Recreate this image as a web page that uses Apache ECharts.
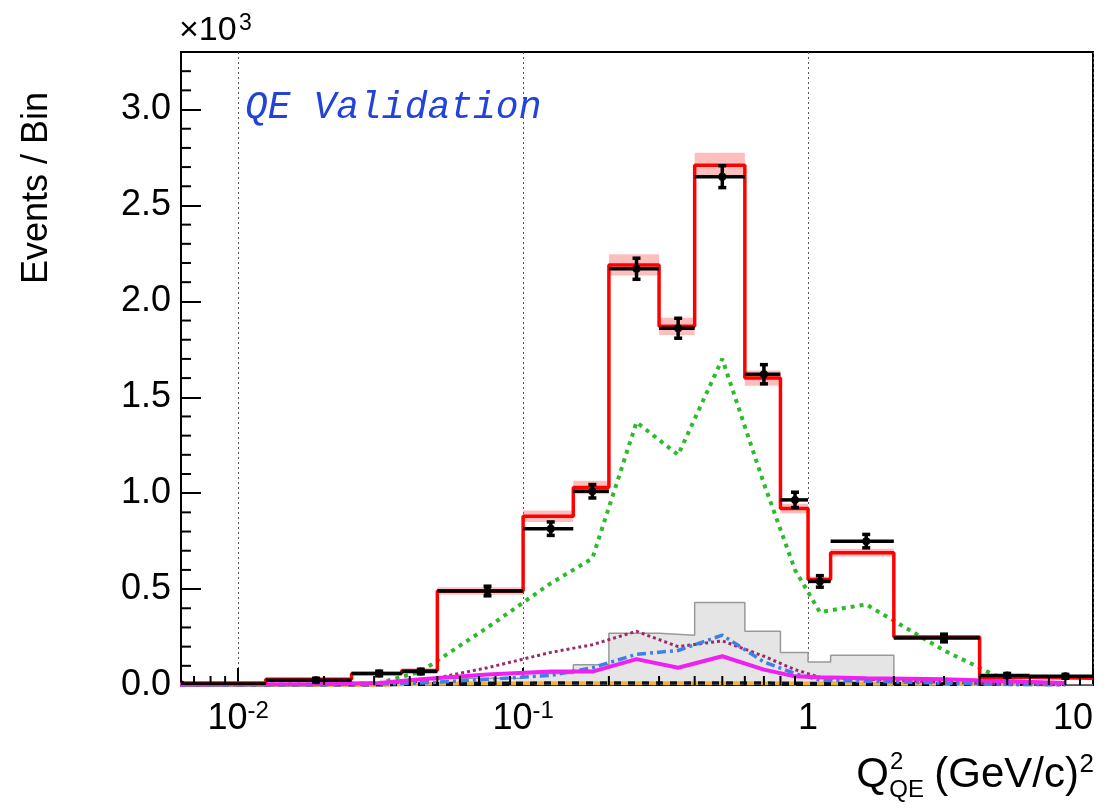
<!DOCTYPE html>
<html>
<head>
<meta charset="utf-8">
<title>QE Validation</title>
<script src="https://cdn.jsdelivr.net/npm/echarts@6/dist/echarts.min.js"></script>
<style>
  html, body { margin: 0; padding: 0; background: #fff; }
  #chart { width: 1120px; height: 811px; }
</style>
</head>
<body>
<div id="chart"></div>
<script>
// Q2_QE binning, (GeV/c)^2
var binEdges = [0, 0.0125, 0.025, 0.0375, 0.05, 0.1, 0.15, 0.2, 0.3, 0.4, 0.6, 0.8, 1.0, 1.2, 2.0, 4.0, 6.0, 10.0];

// all values in units of 10^3 events / bin
var dataValues = [0.005, 0.025, 0.06, 0.07, 0.49, 0.815, 1.01, 2.17, 1.86, 2.65, 1.62, 0.965, 0.54, 0.75, 0.245, 0.05, 0.045];
var dataErrors = [0.005, 0.01, 0.012, 0.012, 0.025, 0.035, 0.035, 0.055, 0.052, 0.057, 0.05, 0.04, 0.03, 0.035, 0.02, 0.01, 0.01];

var mcTotal = [0.01, 0.03, 0.06, 0.075, 0.49, 0.88, 1.03, 2.19, 1.87, 2.71, 1.60, 0.92, 0.55, 0.69, 0.25, 0.04, 0.035];
var mcErrors = [0.003, 0.005, 0.006, 0.006, 0.02, 0.03, 0.035, 0.055, 0.045, 0.065, 0.04, 0.025, 0.015, 0.02, 0.008, 0.003, 0.003];

var mcGray = [0, 0, 0.005, 0.01, 0.035, 0.06, 0.105, 0.27, 0.26, 0.43, 0.28, 0.17, 0.12, 0.155, 0.01, 0, 0];
var mcGreen = [0, 0.004, 0.01, 0.07, 0.30, 0.53, 0.66, 1.37, 1.20, 1.70, 1.05, 0.60, 0.38, 0.42, 0.18, 0.02, 0.005];
var mcPurple = [0, 0.003, 0.008, 0.02, 0.09, 0.17, 0.21, 0.28, 0.20, 0.23, 0.15, 0.08, 0.04, 0.03, 0.015, 0.003, 0.001];
var mcBlue = [0, 0.002, 0.005, 0.01, 0.03, 0.05, 0.09, 0.16, 0.18, 0.26, 0.12, 0.06, 0.025, 0.02, 0.01, 0.002, 0];
var mcMagenta = [0.002, 0.005, 0.01, 0.03, 0.055, 0.07, 0.07, 0.135, 0.09, 0.15, 0.08, 0.045, 0.04, 0.035, 0.03, 0.02, 0.01];
var mcBlack = [0, 0, 0, 0.006, 0.009, 0.01, 0.01, 0.01, 0.01, 0.01, 0.01, 0.009, 0.008, 0.008, 0.007, 0.005, 0.004];
var mcOrange = [0, 0, 0, 0.006, 0.008, 0.009, 0.009, 0.009, 0.009, 0.009, 0.009, 0.008, 0.008, 0.007, 0.006, 0.005, 0.004];

var xTickValues = [0.01, 0.1, 1, 10];
var xTickLabels = ['{b|10}{s|-2}', '{b|10}{s|-1}', '{b|1}', '{b|10}'];
var yTickStep = 0.5;
var yMinorStep = 0.1;

var X_MIN = 0.0063;
var X_MAX = 10;
var Y_MAX = 3.3;
var FONT = 'Liberation Sans, Arial, sans-serif';

(function() {
  var chart = echarts.init(document.getElementById('chart'));

  // Helpers
  function binLo(i) {
    return Math.max(binEdges[i], X_MIN);
  }

  function binCenter(i) {
    return (binEdges[i] + binEdges[i + 1]) / 2;
  }

  function stepPoints(values) {
    var pts = [];
    for (var i = 0; i < values.length; i++) {
      pts.push([binLo(i), values[i]], [binEdges[i + 1], values[i]]);
    }
    return pts;
  }

  function centerPoints(values) {
    return values.map(function(v, i) {
      return [binCenter(i), v];
    });
  }

  // 对数轴的次刻度 2..9
  var minorX = [];
  for (var d = -3; d <= 0; d++) {
    for (var k = 2; k <= 9; k++) {
      var x = k * Math.pow(10, d);
      if (x > X_MIN && x < X_MAX) minorX.push(x);
    }
  }

  // y 次刻度 (每 0.1)
  var minorY = [];
  for (var j = 1; j * yMinorStep < Y_MAX; j++) {
    if (j % Math.round(yTickStep / yMinorStep) !== 0) minorY.push(+(j * yMinorStep).toFixed(2));
  }

  function polyline(name, values, color, width, type, z, offset) {
    return {
      name: name,
      type: 'line',
      data: centerPoints(values),
      showSymbol: false,
      silent: true,
      z: z,
      lineStyle: { color: color, width: width, type: type, cap: 'butt', dashOffset: offset || 0 }
    };
  }

  var bandData = mcTotal.map(function(v, i) {
    return [binLo(i), binEdges[i + 1], v, mcErrors[i]];
  });

  var pointData = dataValues.map(function(v, i) {
    return [binLo(i), binEdges[i + 1], binCenter(i), v, dataErrors[i]];
  });

  var tickData = minorX.map(function(x) {
    return [x, 0, 0];
  }).concat(minorY.map(function(y) {
    return [X_MIN, y, 1];
  }));

  chart.setOption({
    animation: false,
    backgroundColor: '#fff',
    grid: {
      left: 181, right: 27, top: 52, bottom: 126,
      show: true, borderColor: '#000', borderWidth: 2
    },
    xAxis: {
      type: 'log',
      logBase: 10,
      min: X_MIN,
      max: X_MAX,
      axisLine: { show: true, onZero: false, lineStyle: { color: '#000', width: 2 } },
      axisTick: { inside: true, length: 17, lineStyle: { color: '#000', width: 2 } },
      minorTick: { show: false },
      splitLine: { show: true, lineStyle: { color: '#555', width: 1, type: [2, 3] } },
      axisLabel: {
        margin: 14,
        color: '#000',
        showMinLabel: false,
        alignMaxLabel: 'right',
        formatter: function(v) {
          for (var i = 0; i < xTickValues.length; i++) {
            if (Math.abs(Math.log10(v) - Math.log10(xTickValues[i])) < 1e-6) return xTickLabels[i];
          }
          return '';
        },
        rich: {
          b: { fontSize: 36, fontFamily: FONT, color: '#000', lineHeight: 40 },
          s: { fontSize: 24, fontFamily: FONT, color: '#000', lineHeight: 24, verticalAlign: 'top' }
        }
      }
    },
    yAxis: {
      type: 'value',
      min: 0,
      max: Y_MAX,
      interval: yTickStep,
      axisLine: { show: true, lineStyle: { color: '#000', width: 2 } },
      axisTick: { inside: true, length: 20, lineStyle: { color: '#000', width: 2 } },
      minorTick: { show: false },
      splitLine: { show: false },
      axisLabel: {
        margin: 10,
        color: '#000',
        fontSize: 36,
        fontFamily: FONT,
        showMaxLabel: false,
        formatter: function(v) {
          return v.toFixed(1);
        }
      }
    },
    graphic: [
      {
        type: 'text', x: 37, y: 188, rotation: Math.PI / 2,
        style: { text: 'Events / Bin', fontSize: 36, fontFamily: FONT, fill: '#000', align: 'center', verticalAlign: 'middle' }
      },
      { type: 'text', x: 179, y: 48, style: { text: '\u00d710', fontSize: 34, fontFamily: FONT, fill: '#000', verticalAlign: 'bottom' } },
      { type: 'text', x: 239, y: 12, style: { text: '3', fontSize: 23, fontFamily: FONT, fill: '#000' } },
      {
        type: 'text', x: 245, y: 108,
        style: {
          text: 'QE Validation', fontSize: 38, fontFamily: 'Liberation Mono, Courier New, monospace',
          fontStyle: 'italic', fill: '#2242d8', verticalAlign: 'middle'
        }
      },
      // x axis title: Q^2_QE (GeV/c)^2
      { type: 'text', x: 1094, y: 752, style: { text: '2', fontSize: 26, fontFamily: FONT, fill: '#000', align: 'right' } },
      { type: 'text', x: 1079, y: 796, style: { text: '(GeV/c)', fontSize: 42, fontFamily: FONT, fill: '#000', align: 'right', verticalAlign: 'bottom' } },
      { type: 'text', x: 924, y: 778, style: { text: 'QE', fontSize: 24, fontFamily: FONT, fill: '#000', align: 'right' } },
      { type: 'text', x: 890, y: 750, style: { text: '2', fontSize: 24, fontFamily: FONT, fill: '#000', align: 'left' } },
      { type: 'text', x: 889, y: 796, style: { text: 'Q', fontSize: 42, fontFamily: FONT, fill: '#000', align: 'right', verticalAlign: 'bottom' } }
    ],
    series: [
      {
        name: 'gray',
        type: 'line',
        data: stepPoints(mcGray),
        showSymbol: false,
        silent: true,
        z: 1,
        lineStyle: { color: '#999', width: 1.5 },
        areaStyle: { color: '#e5e5e5', opacity: 1 }
      },
      {
        name: 'band',
        type: 'custom',
        data: bandData,
        silent: true,
        clip: true,
        z: 2,
        encode: { x: [0, 1], y: 2 },
        renderItem: function(params, api) {
          var v = api.value(2), e = api.value(3);
          var a = api.coord([api.value(0), v + e]);
          var b = api.coord([api.value(1), v - e]);
          return {
            type: 'rect',
            shape: { x: a[0], y: a[1], width: b[0] - a[0], height: b[1] - a[1] },
            style: { fill: 'rgba(255, 70, 70, 0.35)' }
          };
        }
      },
      polyline('orange', mcOrange, '#f2b23a', 4, [7, 7], 3, 7),
      polyline('black', mcBlack, '#111', 3.5, [7, 7], 3),
      polyline('green', mcGreen, '#2dbb2d', 4, [4, 5], 3),
      polyline('purple', mcPurple, '#9c2a6a', 3, [3, 3], 3),
      polyline('blue', mcBlue, '#3f80e6', 3.5, [9, 4, 3, 4], 3),
      polyline('magenta', mcMagenta, '#f020f0', 4, 'solid', 3),
      {
        name: 'mc',
        type: 'line',
        data: stepPoints(mcTotal),
        showSymbol: false,
        silent: true,
        z: 5,
        lineStyle: { color: '#ff0000', width: 3.5 }
      },
      {
        name: 'data',
        type: 'custom',
        data: pointData,
        silent: true,
        clip: true,
        z: 6,
        encode: { x: [0, 1, 2], y: 3 },
        renderItem: function(params, api) {
          var lo = api.value(0), hi = api.value(1), c = api.value(2);
          var v = api.value(3), e = api.value(4);
          var pL = api.coord([lo, v]);
          var pR = api.coord([hi, v]);
          var pC = api.coord([c, v]);
          var pT = api.coord([c, v + e]);
          var pB = api.coord([c, v - e]);
          var st = { stroke: '#000', lineWidth: 3.5 };
          var cap = 4;
          return {
            type: 'group',
            children: [
              { type: 'line', shape: { x1: pL[0], y1: pL[1], x2: pR[0], y2: pR[1] }, style: st },
              { type: 'line', shape: { x1: pC[0], y1: pT[1], x2: pC[0], y2: pB[1] }, style: st },
              { type: 'line', shape: { x1: pC[0] - cap, y1: pT[1], x2: pC[0] + cap, y2: pT[1] }, style: st },
              { type: 'line', shape: { x1: pC[0] - cap, y1: pB[1], x2: pC[0] + cap, y2: pB[1] }, style: st },
              { type: 'circle', shape: { cx: pC[0], cy: pC[1], r: 4 }, style: { fill: '#000' } }
            ]
          };
        }
      },
      {
        // 次刻度：x 轴向上，y 轴向右
        name: 'minorTicks',
        type: 'custom',
        data: tickData,
        silent: true,
        z: 7,
        encode: { x: 0, y: 1 },
        renderItem: function(params, api) {
          var p = api.coord([api.value(0), api.value(1)]);
          var onY = api.value(2) === 1;
          return {
            type: 'line',
            shape: onY
              ? { x1: p[0], y1: p[1], x2: p[0] + 10, y2: p[1] }
              : { x1: p[0], y1: p[1], x2: p[0], y2: p[1] - 9 },
            style: { stroke: '#000', lineWidth: 2 }
          };
        }
      }
    ]
  });
})();
</script>
</body>
</html>
